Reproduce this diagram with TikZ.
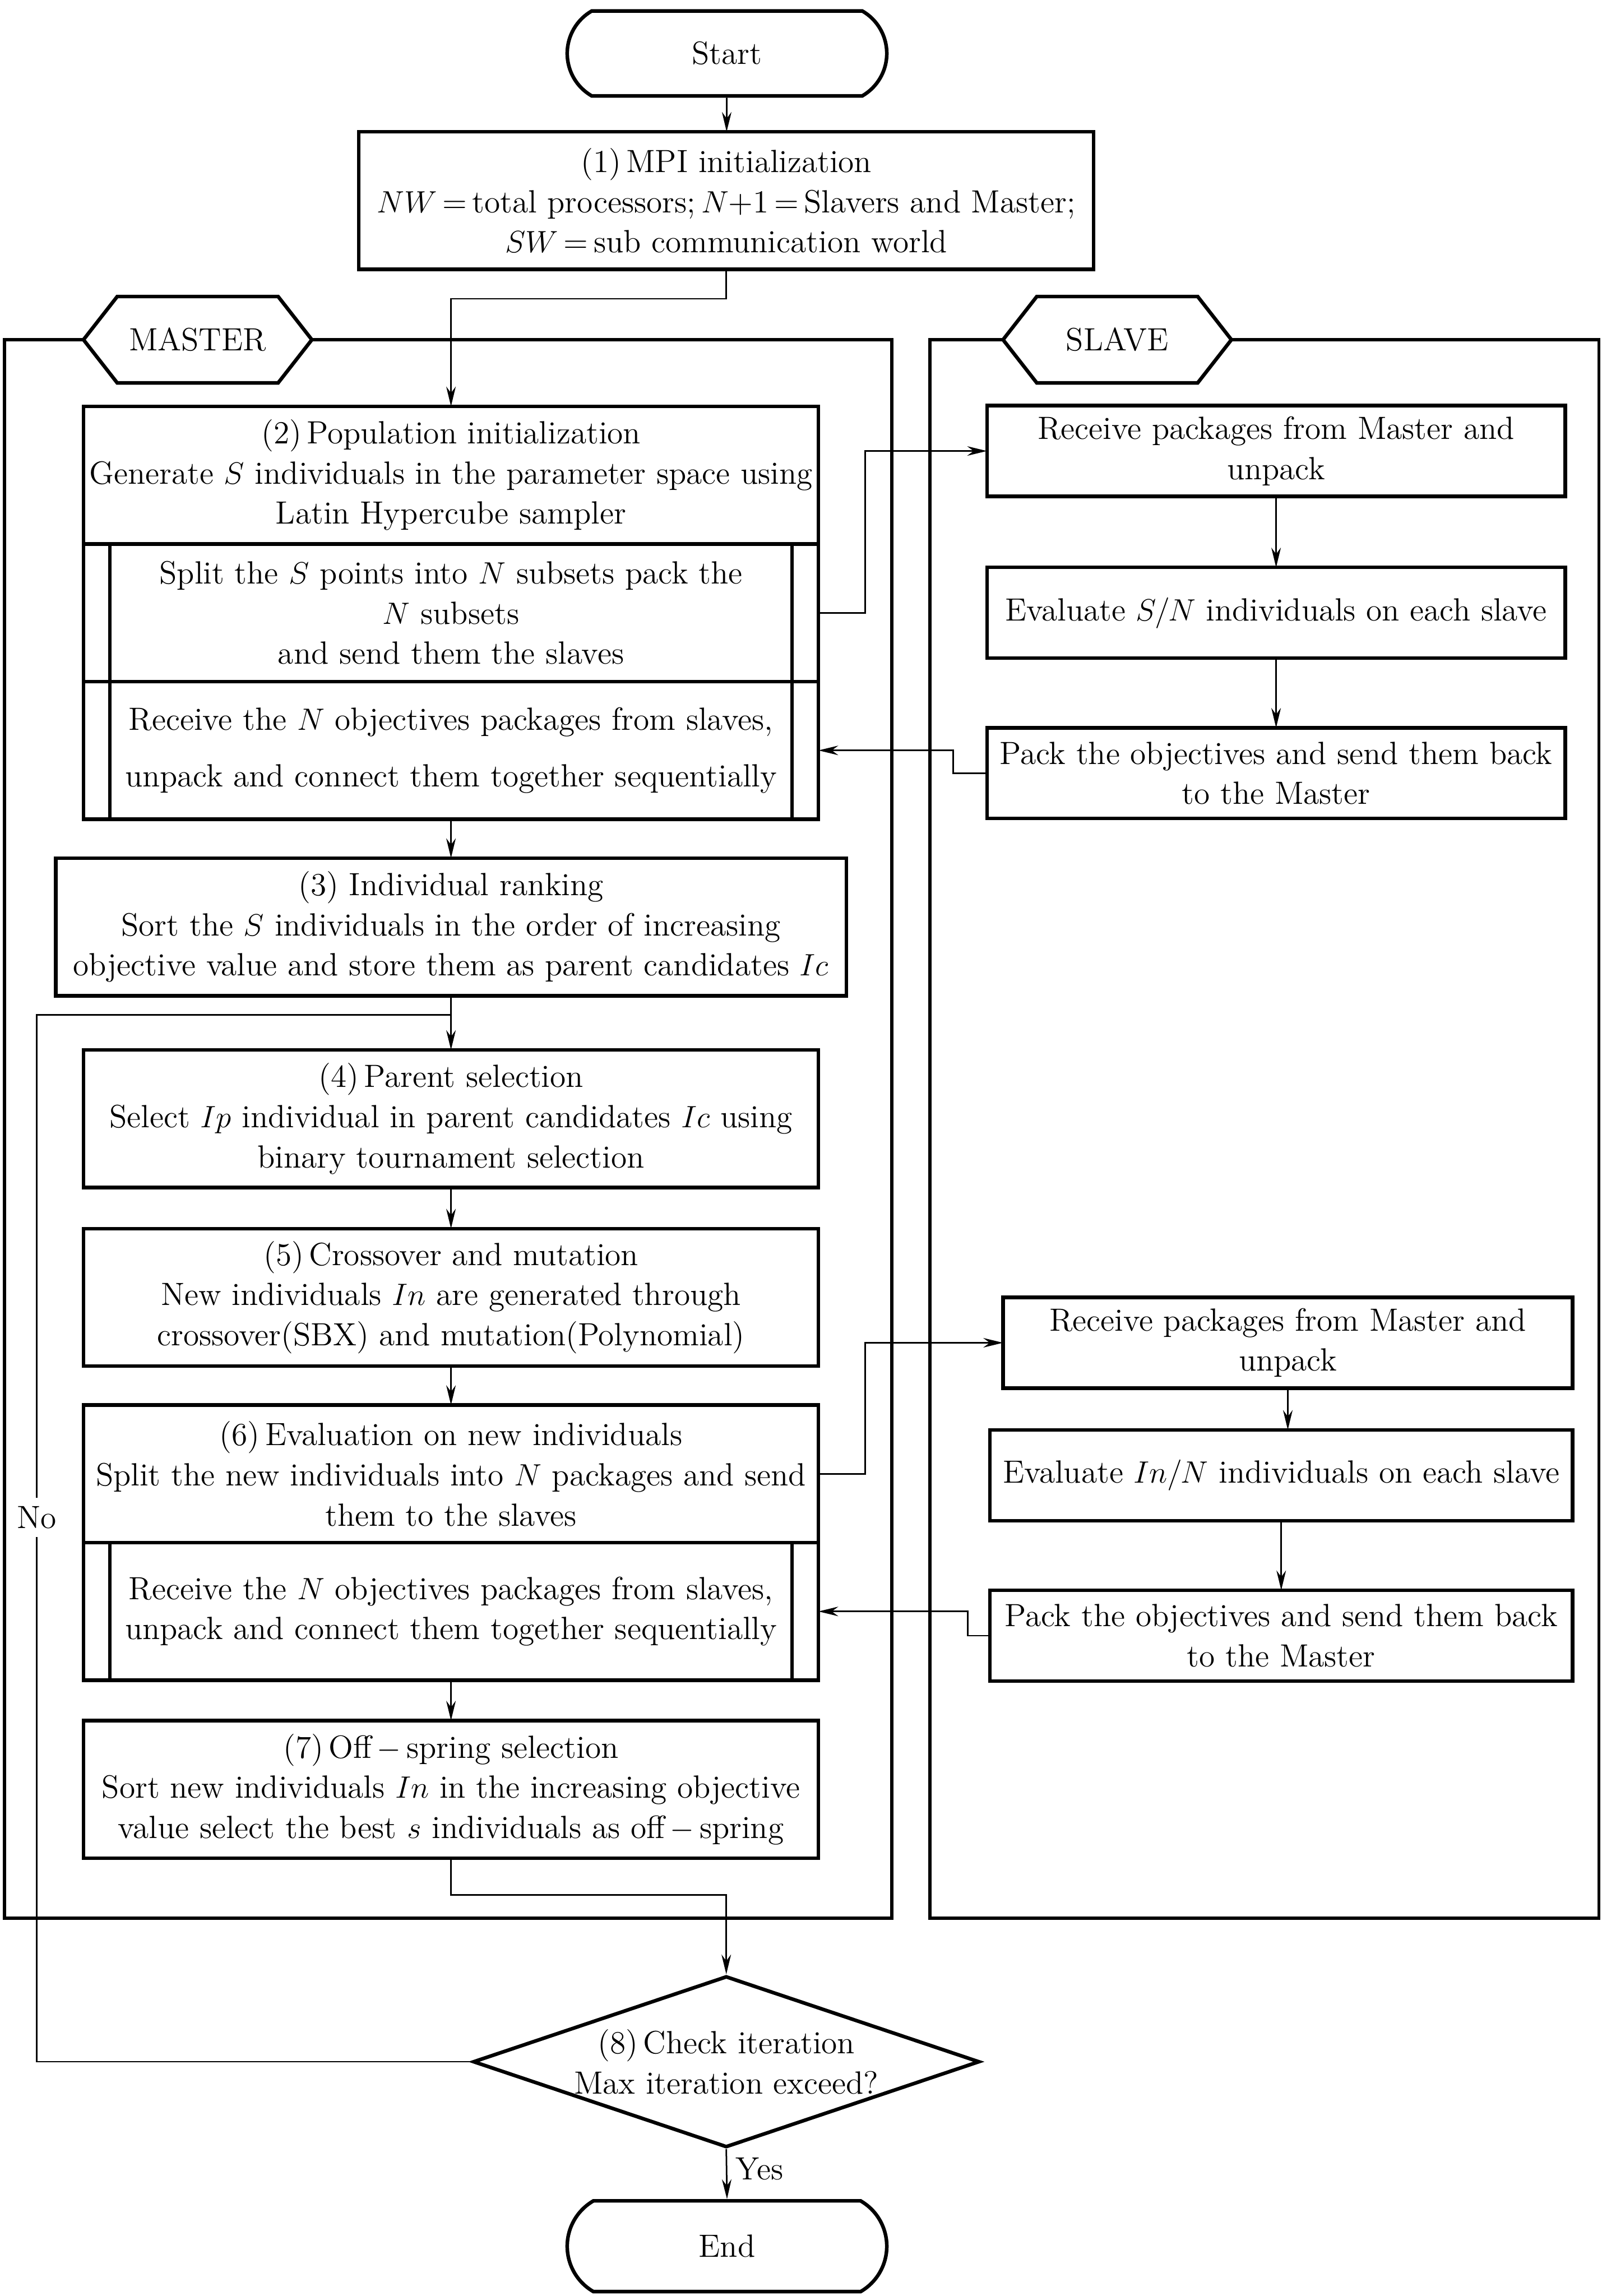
\documentclass[tikz,border=0pt]{standalone}
\usepackage{amsmath,amssymb}
\usepackage{tikz}
\usetikzlibrary{arrows.meta, positioning, shapes.geometric, shapes.misc, shapes.symbols}

\begin{document}
\begin{tikzpicture}[
  x=0.02cm, y=-0.02cm,
  font=\fontsize{12.5}{15.6}\selectfont,
  terminal/.style={rounded rectangle, rounded rectangle arc length=120,
                   draw, line width=1.4pt,
                   minimum width=4.6cm, minimum height=1.16cm},
  process/.style={rectangle, draw, line width=1.4pt, align=center,
                  inner xsep=0pt, outer sep=0pt},
  mbox/.style={process, minimum width=10.04cm, minimum height=1.88cm},
  sbox/.style={process, minimum width=7.9cm, minimum height=1.24cm},
  predef/.style={path picture={
      \draw[line width=1.4pt] ([xshift=0.36cm]path picture bounding box.north west)
        -- ([xshift=0.36cm]path picture bounding box.south west);
      \draw[line width=1.4pt] ([xshift=-0.36cm]path picture bounding box.north east)
        -- ([xshift=-0.36cm]path picture bounding box.south east);}},
  decision/.style={diamond, draw, line width=1.4pt, aspect=2.96,
                   inner sep=0pt, align=center,
                   minimum width=6.92cm, minimum height=2.34cm},
  lanelabel/.style={signal, signal to=east and west, signal pointer angle=104,
                    draw, fill=white, line width=1.4pt,
                    minimum width=3.12cm, minimum height=1.18cm},
  lane/.style={draw, line width=1.2pt},
  ln/.style={line width=0.6pt},
  arr/.style={-{Stealth[length=0.27cm, width=0.13cm]}, line width=0.6pt},
]
\useasboundingbox (0,0) rectangle (1094,1568);

% swimlanes
\draw[lane] (3,232) rectangle (609,1310);
\draw[lane] (635,232) rectangle (1092,1310);
\node[lanelabel] (master) at (135,232) {MASTER};
\node[lanelabel] (slave) at (763,232) {SLAVE};

% master side
\node[terminal] (start) at (496.5,36.5) {Start};
\node[process, minimum width=10.04cm, minimum height=1.88cm] (mpi) at (496,137)
  {(1)\,MPI initialization\\
   $NW$\,=\,total processors;\,$N$+1\,=\,Slavers and Master;\\
   $SW$\,=\,sub communication world};
\node[mbox] (popinit) at (308,324.5)
  {(2)\,Population initialization\\
   Generate $S$ individuals in the parameter space using\\
   Latin Hypercube sampler};
\node[mbox, predef, below=0pt of popinit] (split)
  {Split the $S$ points into $N$ subsets pack the\\
   $N$ subsets\\
   and send them the slaves};
\node[mbox, predef, below=0pt of split] (collect)
  {Receive the $N$ objectives packages from slaves,\\[0.22cm]
   unpack and connect them together sequentially};
\node[process, minimum width=10.8cm, minimum height=1.88cm] (rank) at (308,633)
  {(3) Individual ranking\\
   Sort the $S$ individuals in the order of increasing\\
   objective value and store them as parent candidates $Ic$};
\coordinate (loop) at (308,693);
\node[mbox] (parent) at (308,764)
  {(4)\,Parent selection\\
   Select $Ip$ individual in parent candidates $Ic$ using\\
   binary tournament selection};
\node[mbox] (cross) at (308,886)
  {(5)\,Crossover and mutation\\
   New individuals $In$ are generated through\\
   crossover(SBX) and mutation(Polynomial)};
\node[mbox] (evalnew) at (308,1006.5)
  {(6)\,Evaluation on new individuals\\
   Split the new individuals into $N$ packages and send\\
   them to the slaves};
\node[mbox, predef, below=0pt of evalnew] (collecttwo)
  {Receive the $N$ objectives packages from slaves,\\
   unpack and connect them together sequentially};
\node[mbox] (offspring) at (308,1222)
  {(7)\,Off\,$-$\,spring selection\\
   Sort new individuals $In$ in the increasing objective\\
   value select the best $s$ individuals as off\,$-$\,spring};
\node[decision] (check) at (496,1408)
  {(8)\,Check iteration\\Max iteration exceed?};
\node[terminal, minimum height=1.24cm] (finish) at (496.5,1534) {End};
\coordinate (nocorner) at (25,693);

% slave side
\node[sbox] (recvone) at (871.5,308) {Receive packages from Master and\\unpack};
\node[sbox] (evalone) at (871.5,418.5) {Evaluate $S/N$ individuals on each slave};
\node[sbox] (packone) at (871.5,528) {Pack the objectives and send them back\\to the Master};
\node[sbox, minimum width=7.78cm] (recvtwo) at (879.5,917) {Receive packages from Master and\\unpack};
\node[sbox, minimum width=7.96cm] (evaltwo) at (875,1007.5) {Evaluate $In/N$ individuals on each slave};
\node[sbox, minimum width=7.96cm] (packtwo) at (875,1117) {Pack the objectives and send them back\\to the Master};

\draw[arr] (start) -- (mpi);
\draw[arr] (mpi.south) -- ++(0,20) -| (popinit.north);
\draw[arr] (split.east) -- ++(32,0) |- (recvone.west);
\draw[arr] (recvone) -- (evalone);
\draw[arr] (evalone) -- (packone);
\draw[arr] (packone.west) -- ++(-23,0) |- (collect.east);
\draw[arr] (collect.south) -- (rank.north);
\draw[arr] (rank.south) -- (parent.north);
\draw[arr] (parent) -- (cross);
\draw[arr] (cross) -- (evalnew);
\draw[arr] (evalnew.east) -- ++(32,0) |- (recvtwo.west);
\draw[arr] (recvtwo.south) -- (recvtwo.south |- evaltwo.north);
\draw[arr] (evaltwo) -- (packtwo);
\draw[arr] (packtwo.west) -- ++(-15,0) |- (collecttwo.east);
\draw[arr] (collecttwo) -- (offspring);
\draw[arr] (offspring.south) -- ++(0,25) -| (check.north);
\draw[arr] (check.south) -- (finish.north) node[pos=0.4, right]{Yes};
\draw[ln] (check.west) -| (nocorner) node[pos=0.76, fill=white, inner xsep=1pt]{No} -- (loop);

\end{tikzpicture}
\end{document}
